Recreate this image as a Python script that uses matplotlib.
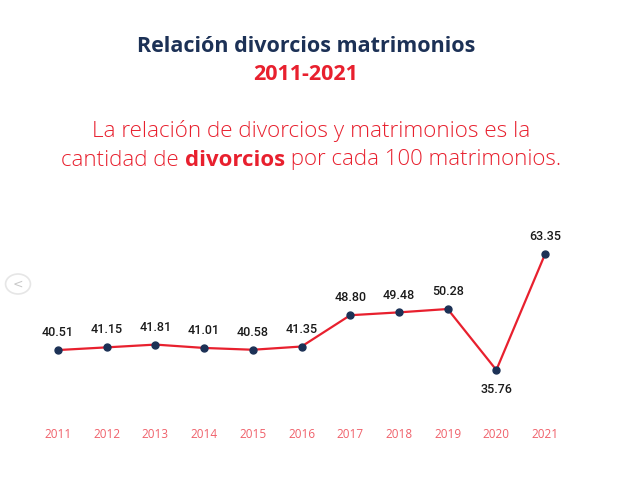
import matplotlib.pyplot as plt
from matplotlib.patches import Circle

# data
years = [2011, 2012, 2013, 2014, 2015, 2016, 2017, 2018, 2019, 2020, 2021]
ratio = [40.51, 41.15, 41.81, 41.01, 40.58, 41.35, 48.80, 49.48, 50.28, 35.76, 63.35]
year_labels = [str(y) for y in years]

navy = '#1c3156'
red = '#e8202e'
light_red = '#f0606a'
fam = ['Open Sans', 'DejaVu Sans']

fig = plt.figure(figsize=(6.22, 4.99), dpi=100)
fig.patch.set_facecolor('white')

# headings
fig.text(0.492, 1 - 47 / 499, 'Relación divorcios matrimonios', ha='center', va='center',
         fontsize=15.5, fontweight='bold', color=navy, family=fam)
fig.text(0.492, 1 - 75 / 499, '2011-2021', ha='center', va='center',
         fontsize=15.5, fontweight='bold', color=red, family=fam)

fig.text(0.5, 1 - 131 / 499, 'La relación de divorcios y matrimonios es la', ha='center', va='center',
         fontsize=16.2, fontweight='light', color=red, family=fam)

# second line: normal / bold / normal pieces laid out side by side
pieces = [('cantidad de ', 'light'), ('divorcios', 'bold'), (' por cada 100 matrimonios.', 'light')]
renderer = fig.canvas.get_renderer()
texts = []
for s, w in pieces:
    texts.append(fig.text(0, 1 - 160 / 499, s, ha='left', va='center', fontsize=16,
                          fontweight=w, color=red, family=fam))
widths = [t.get_window_extent(renderer).width / fig.bbox.width for t in texts]
x0 = 0.5 - sum(widths) / 2
for t, w in zip(texts, widths):
    t.set_x(x0)
    x0 += w

# carousel arrow (UI element)
circ = Circle((18 / 622, 1 - 284 / 499), 0.02, transform=fig.transFigure,
              facecolor='white', edgecolor='#e6e6e6', lw=1.2)
fig.patches.append(circ)
fig.text(18 / 622, 1 - 284 / 499, '<', ha='center', va='center', fontsize=9, color='#c8c8c8')

# chart
ax = fig.add_axes([20 / 622, 1 - 422 / 499, 565 / 622, 202 / 499])
ax.plot(years, ratio, color=red, lw=1.6, zorder=2)
ax.plot(years, ratio, 'o', color=navy, ms=5, zorder=3)

for x, v in zip(years, ratio):
    dy = -14 if v == min(ratio) else 12.5
    ax.annotate(f'{v:.2f}', (x, v), xytext=(0, dy), textcoords='offset points',
                ha='center', va='center', fontsize=9, fontweight='medium', color='#1a1a1a',
                family=['Roboto', 'DejaVu Sans'])

ax.set_xlim(2010.22, 2021.82)
ax.set_ylim(23.38, 71.47)
ax.set_xticks(years)
ax.set_xticklabels(year_labels, color=light_red, fontsize=8.5, family=fam)
ax.tick_params(axis='x', length=0, pad=4)
ax.set_yticks([])
for s in ax.spines.values():
    s.set_visible(False)
ax.patch.set_alpha(0)

fig.savefig('out.png', dpi=100, facecolor='white')
